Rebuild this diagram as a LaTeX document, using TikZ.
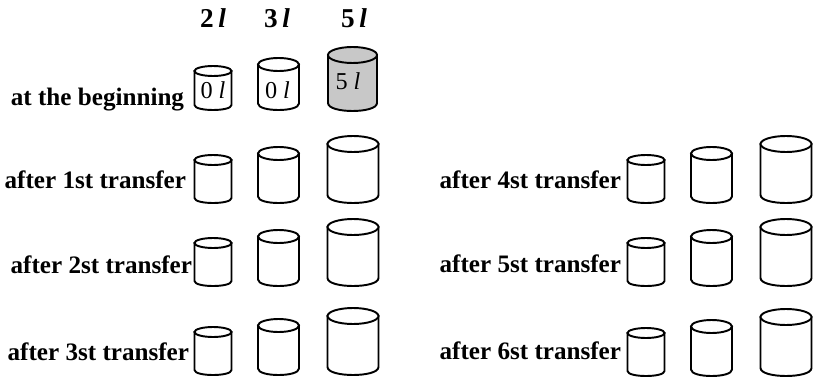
\documentclass[tikz,border=0pt]{standalone}
\usepackage{fontspec}
\setmainfont{Liberation Serif}
\definecolor{tankgrey}{RGB}{200,200,200}
% a tank: centre x, lowest y, half width, total height, ellipse radius, fill
\newcommand{\tank}[6]{%
  \filldraw[fill=#6] (#1-#3,#2-#5) -- (#1-#3,#2-#4+#5) -- (#1+#3,#2-#4+#5) -- (#1+#3,#2-#5)
    .. controls (#1+#3,#2+#5/3) and (#1-#3,#2+#5/3) .. cycle;
  \filldraw[fill=#6] (#1,#2-#4+#5) ellipse [x radius=#3, y radius=#5];
}
\begin{document}
\begin{tikzpicture}[x=0.02cm, y=-0.02cm, line width=1.1pt,
    rowlabel/.style={font=\bfseries\fontsize{14.3}{17}\selectfont, inner sep=0pt, anchor=base east},
    caption/.style={font=\bfseries\fontsize{15.5}{18}\selectfont, inner sep=0pt, anchor=base},
    content/.style={font=\fontsize{13.8}{16}\selectfont, inner sep=0pt, anchor=base}]
    \useasboundingbox (0,0) rectangle (817,385);
    % Capacities
    \node[caption] (cap2) at (213,28) {2\,\textit{l}};
    \node[caption] (cap3) at (277,28) {3\,\textit{l}};
    \node[caption] (cap5) at (354,28) {5\,\textit{l}};
    % At the beginning
    \node[rowlabel] (row0) at (185,106) {at the beginning};
    \tank{213}{110}{18.5}{44}{5}{white}
    \tank{278.5}{110}{20.5}{52}{6.5}{white}
    \tank{352.5}{111}{24.5}{64}{8}{tankgrey}
    \node[content] (in2) at (213,98) {0 \textit{l}};
    \node[content] (in3) at (277.5,98) {0 \textit{l}};
    \node[content] (in5) at (348,90) {5 \textit{l}};
    % Transfers
    \foreach \n/\txt/\xe/\yb in {1/after 1st transfer/187/188, 2/after 2st transfer/193/273,
        3/after 3st transfer/190/360, 4/after 4st transfer/622/188,
        5/after 5st transfer/622/272, 6/after 6st transfer/622/359}
        \node[rowlabel] (row\n) at (\xe,\yb) {\txt};
    \foreach \dx/\yl in {0/203, 0/286, 0/375, 433/203, 433/286, 433/376} {
        \tank{213+\dx}{\yl}{18.5}{48}{5}{white}
        \tank{278.5+\dx}{\yl}{20.5}{56}{6.5}{white}
        \tank{353+\dx}{\yl}{25.5}{67}{8}{white}
    }
\end{tikzpicture}
\end{document}
